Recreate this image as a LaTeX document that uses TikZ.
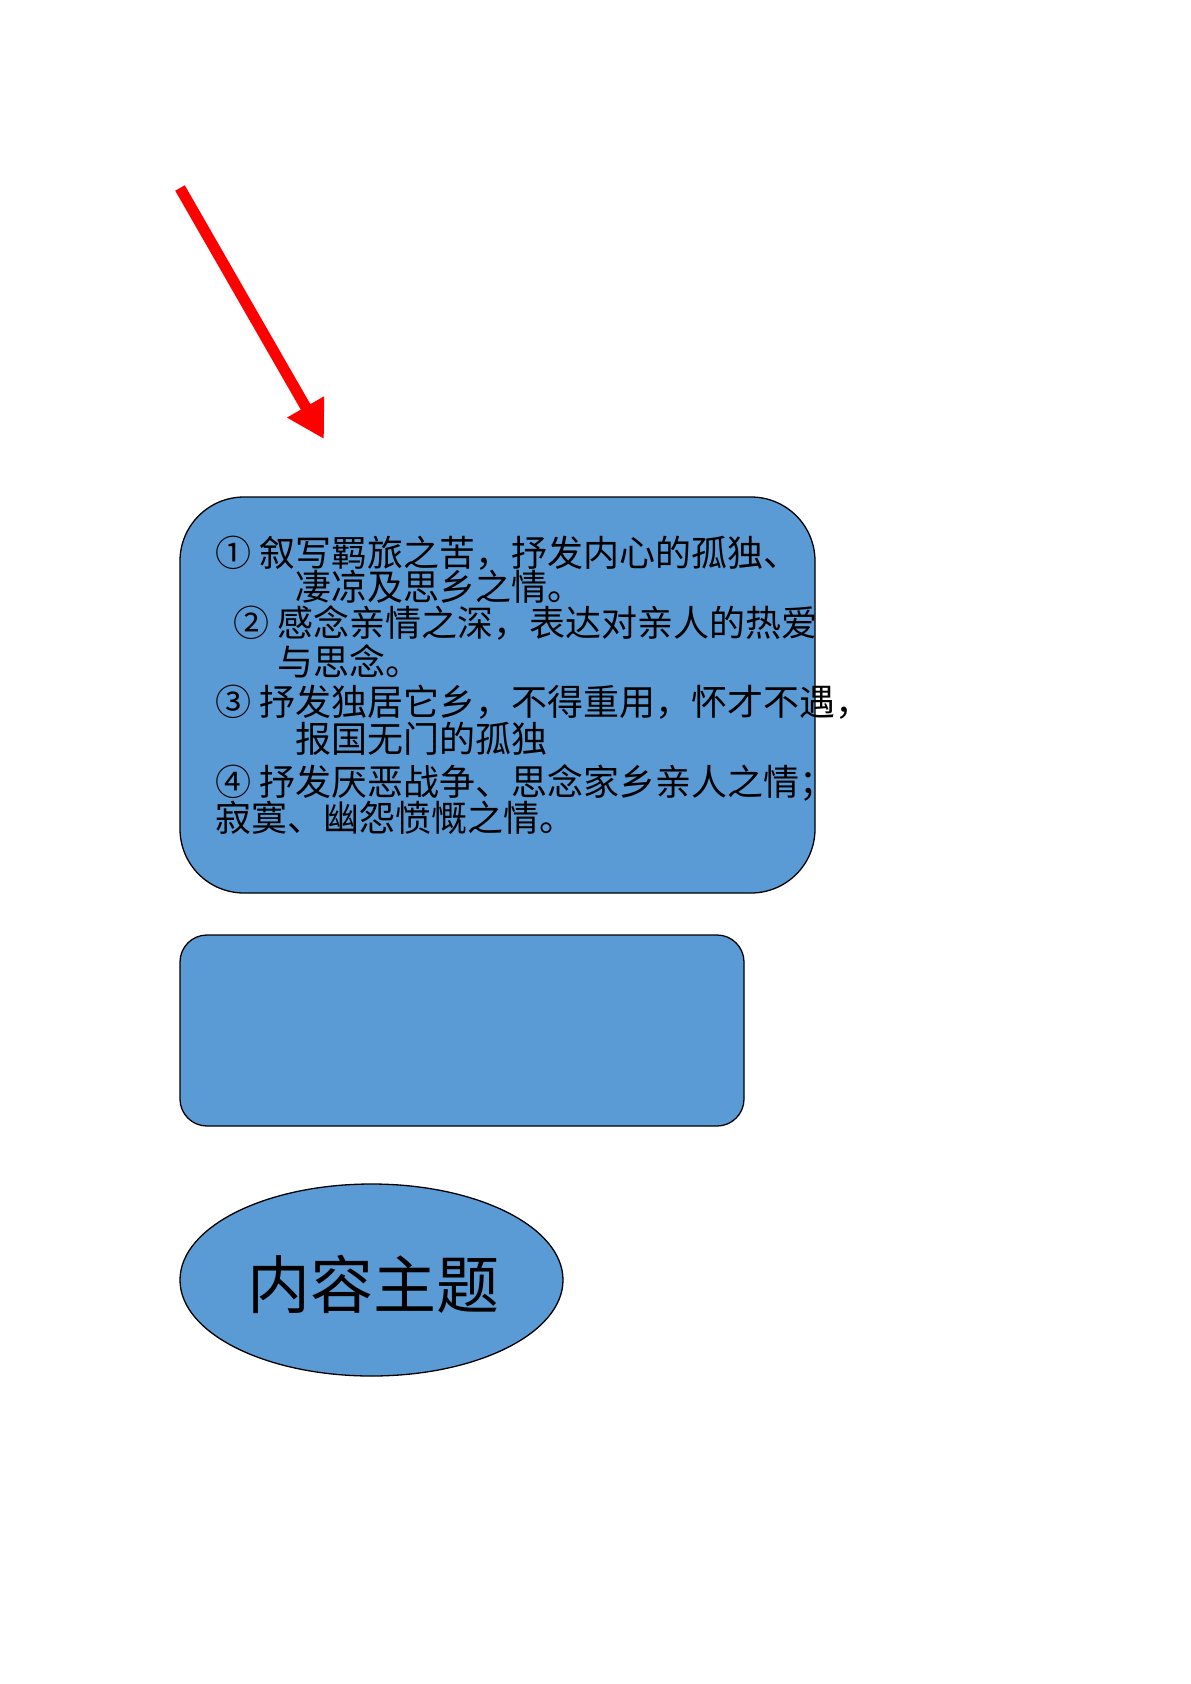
\documentclass[tikz,border=0pt]{standalone}
\usepackage{fontspec}
\newfontfamily\cjk{Noto Sans CJK SC}
\usetikzlibrary{arrows.meta,shapes.geometric}
\definecolor{boxblue}{HTML}{5B9BD5}
\begin{document}
\begin{tikzpicture}[x=1pt,y=-1pt,
  blueshape/.style={draw=black,line width=1.3pt,fill=boxblue,inner sep=0pt},
  linetext/.style={anchor=base west,inner sep=0pt,font=\cjk\fontsize{36}{40}\selectfont},
  bigtext/.style={inner sep=0pt,font=\cjk\fontsize{63}{68}\selectfont}]
\useasboundingbox (0,0) rectangle (1191,1684);
% arrow
\coordinate (tail) at (180,188);
\coordinate (tip) at (324,439);
\draw[red,line width=11pt,-{Triangle[width=40pt,length=37pt]}] (tail) -- (tip);
% boxes
\node[blueshape,rounded corners=64pt,minimum width=635pt,minimum height=396pt] (box1) at (497.5,695) {};
\node[blueshape,rounded corners=27pt,minimum width=564pt,minimum height=191pt] (box2) at (462,1030.5) {};
\node[blueshape,ellipse,minimum width=383pt,minimum height=192pt] (ell) at (371.5,1280) {};
\node[bigtext] (title) at (373,1284) {内容主题};
% text lines
\node[linetext] (l1) at (215,566) {①\hspace{8pt}叙写羁旅之苦，抒发内心的孤独、};
\node[linetext] (l2) at (295,600) {凄凉及思乡之情。};
\node[linetext] (l3) at (233,636) {②\hspace{8pt}感念亲情之深，表达对亲人的热爱};
\node[linetext] (l4) at (277,675) {与思念。};
\node[linetext] (l5) at (215,715) {③\hspace{8pt}抒发独居它乡，不得重用，怀才不遇，};
\node[linetext] (l6) at (295,752) {报国无门的孤独};
\node[linetext] (l7) at (215,795) {④\hspace{8pt}抒发厌恶战争、思念家乡亲人之情；};
\node[linetext] (l8) at (215,831) {寂寞、幽怨愤慨之情。};
\end{tikzpicture}
\end{document}
